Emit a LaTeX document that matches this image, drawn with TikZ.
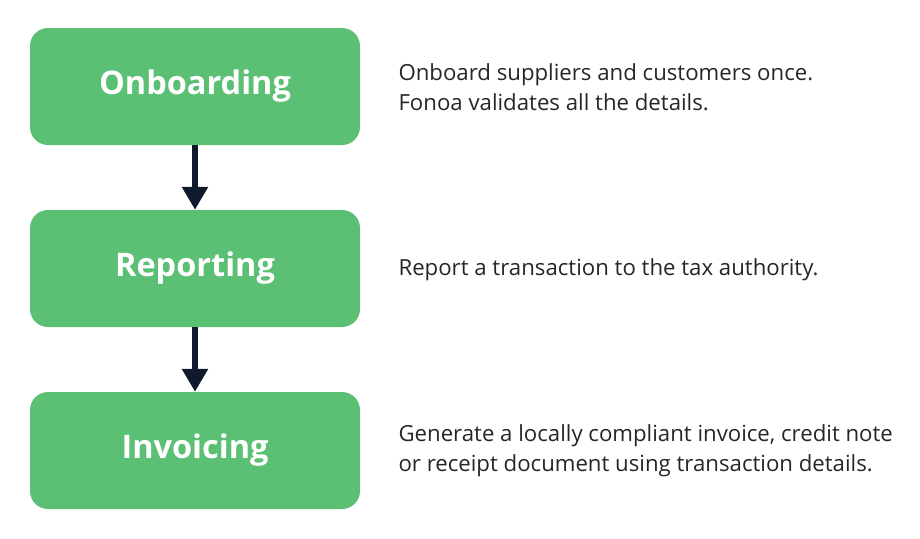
\documentclass[tikz,border=0pt]{standalone}
\usepackage{fontspec}
\setmainfont{Open Sans}
\usepackage{xcolor}
\usetikzlibrary{positioning, arrows.meta}

\definecolor{stepgreen}{HTML}{5BBF74}
\definecolor{arrownavy}{HTML}{0F1B2D}

\begin{document}
\begin{tikzpicture}[x=1pt, y=-1pt,
	stepbox/.style = {fill = stepgreen, rounded corners = 18pt, minimum width = 330pt, minimum height = 117pt,
		text = white, font = \fontsize{32.5}{36}\selectfont\bfseries},
	note/.style = {anchor = west, align = left, text = black!85, font = \fontsize{22.2}{30}\selectfont},
	flow/.style = {arrownavy, line width = 6pt, -{Triangle[width = 25pt, length = 23pt]}}]
			\useasboundingbox (0,0) rectangle (920,538);

			\node [stepbox] (onboarding) at (195,86.5) {Onboarding};
			\node [stepbox] (reporting) at (195,268.5) {Reporting};
			\node [stepbox] (invoicing) at (195,450.5) {Invoicing};

			\draw [flow] (onboarding) -- (reporting);
			\draw [flow] (reporting) -- (invoicing);

			\node [note] (onboarding text) at (395,87) {Onboard suppliers and customers once.\\Fonoa validates all the details.};
			\node [note] (reporting text) at (395,270) {Report a transaction to the tax authority.};
			\node [note] (invoicing text) at (395,451) {Generate a locally compliant invoice, credit note\\or receipt document using transaction details.};
		\end{tikzpicture}
\end{document}
